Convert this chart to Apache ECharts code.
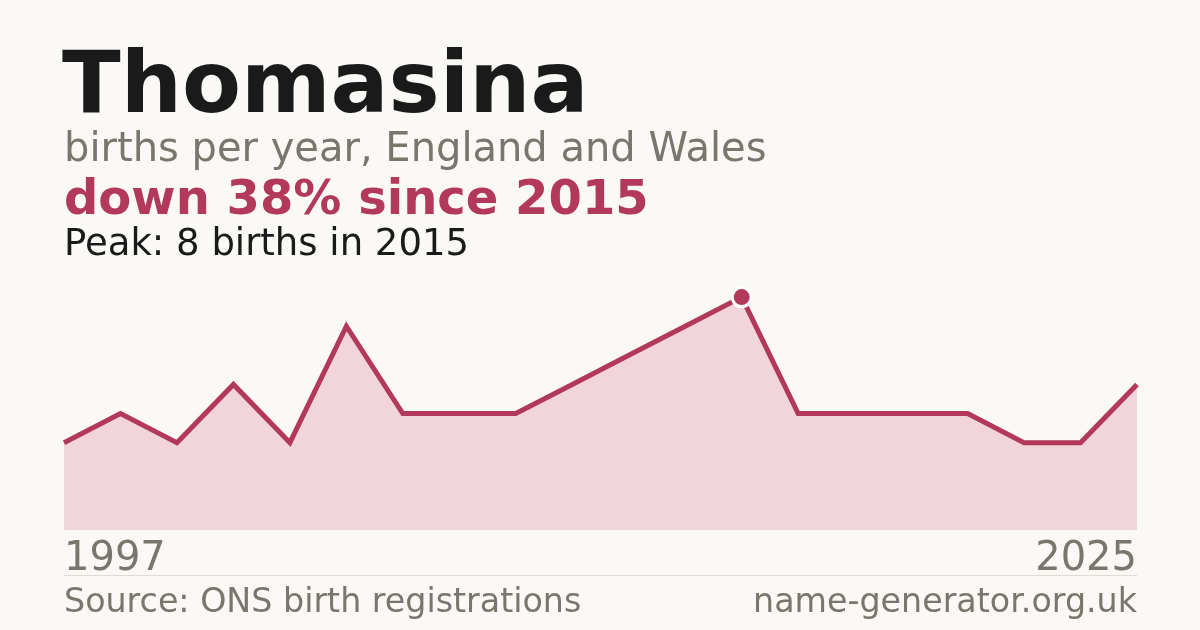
<!DOCTYPE html>
<html><head><meta charset="utf-8">
<script src="https://cdn.jsdelivr.net/npm/echarts@6/dist/echarts.min.js"></script>
<style>html,body{margin:0;padding:0;background:#faf9f5;}#c{width:1200px;height:630px;}</style>
</head><body><div id="c"></div>
<script>
const years = ['1997','1998','2000','2001','2003','2004','2006','2007','2008','2010','2012','2013','2015','2016','2018','2019','2020','2022','2023','2025'];
const births = [3,4,3,5,3,7,4,4,4,5,6,7,8,4,4,4,4,3,3,5];
const titleText = 'Thomasina';
const subtitleText = 'births per year, England and Wales';
const changeText = 'down 38% since 2015';
const peakText = 'Peak: 8 births in 2015';
const sourceText = 'Source: ONS birth registrations';
const siteText = 'name-generator.org.uk';

const RED = '#b3395a';
const GRAY = '#7a756d';
const FONT = 'DejaVu Sans';
const last = years.length - 1;

const chart = echarts.init(document.getElementById('c'), null, {renderer:'canvas'});
chart.setOption({
  backgroundColor: '#faf9f5',
  animation: false,
  grid: {left: 64, right: 63, top: 268, bottom: 100, containLabel: false},
  xAxis: {
    type: 'category', data: years, boundaryGap: false,
    axisLine: {show: false}, axisTick: {show: false}, splitLine: {show: false},
    axisLabel: {
      interval: (i) => i === 0 || i === last,
      alignMinLabel: 'left', alignMaxLabel: 'right',
      color: GRAY, fontFamily: FONT, fontSize: 40, margin: 10,
      verticalAlign: 'top'
    }
  },
  yAxis: {type: 'value', min: 0, max: 9, show: false, splitLine: {show: false}},
  series: [{
    type: 'line', data: births, showSymbol: false, symbol: 'none',
    lineStyle: {color: RED, width: 5, join: 'miter'},
    areaStyle: {color: '#f2d5db', opacity: 1},
    markPoint: {
      symbol: 'circle', symbolSize: 19, silent: true,
      itemStyle: {color: RED, borderColor: '#ffffff', borderWidth: 3},
      label: {show: false},
      data: [{type: 'max'}]
    }
  }],
  graphic: [
    {type: 'text', left: 62, top: 47, style: {text: titleText, fill: '#1a1a1a', font: 'bold 86px "DejaVu Sans"'}},
    {type: 'text', left: 64, top: 131, style: {text: subtitleText, fill: GRAY, font: '40px "DejaVu Sans"'}},
    {type: 'text', left: 64, top: 178, style: {text: changeText, fill: RED, font: 'bold 48px "DejaVu Sans"'}},
    {type: 'text', left: 64, top: 227, style: {text: peakText, fill: '#1a1a1a', font: '37px "DejaVu Sans"'}},
    {type: 'line', shape: {x1: 64, y1: 575.5, x2: 1137, y2: 575.5}, style: {stroke: '#dedbd3', lineWidth: 1}},
    {type: 'text', left: 64, top: 587, style: {text: sourceText, fill: GRAY, font: '33.3px "DejaVu Sans"'}},
    {type: 'text', right: 63, top: 587, style: {text: siteText, fill: GRAY, font: '33.3px "DejaVu Sans"', align: 'right'}}
  ]
});
</script></body></html>
